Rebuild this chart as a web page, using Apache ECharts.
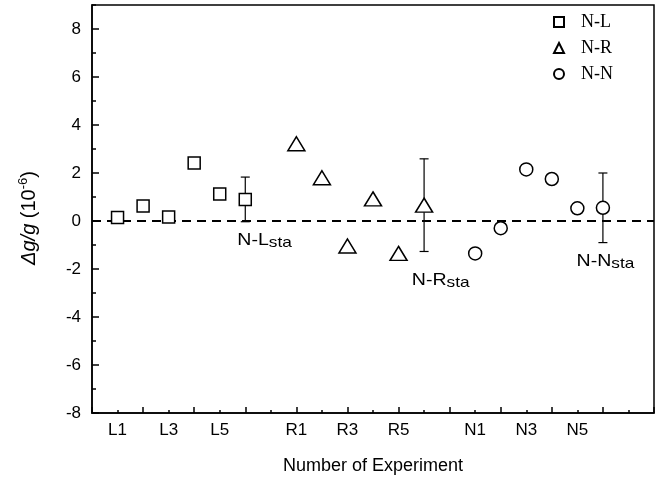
<!DOCTYPE html>
<html>
<head>
<meta charset="utf-8">
<script src="https://cdn.jsdelivr.net/npm/echarts@6/dist/echarts.min.js"></script>
<style>
html,body{margin:0;padding:0;background:#fff;}
#chart{width:672px;height:483px;}
</style>
</head>
<body>
<div id="chart"></div>
<script>
// ---- data ----
const xTickValues = [1, 3, 5, 8, 10, 12, 15, 17, 19];
const xTickLabels = ['L1', 'L3', 'L5', 'R1', 'R3', 'R5', 'N1', 'N3', 'N5'];
const yTickValues = [-8, -6, -4, -2, 0, 2, 4, 6, 8];

const nlX = [1, 2, 3, 4, 5, 6];
const nlY = [0.15, 0.62, 0.17, 2.42, 1.12, 0.90];
const nrX = [8, 9, 10, 11, 12, 13];
const nrY = [3.22, 1.80, -1.04, 0.92, -1.35, 0.66];
const nnX = [15, 16, 17, 18, 19, 20];
const nnY = [-1.35, -0.30, 2.15, 1.75, 0.53, 0.55];

// error bars of the "sta" points
const staX = [6, 13, 20];
const staY = [0.90, 0.66, 0.55];
const staErr = [0.93, 1.93, 1.45];

// reference level (dashed line)
const refLevel = [0];

// annotations
const noteMain = ['N-L', 'N-R', 'N-N'];
const noteSub = ['sta', 'sta', 'sta'];
const noteX = [5.69, 12.52, 18.97];
const noteY = [-0.81, -2.48, -1.67];

const FONT = 'Liberation Sans, Arial, sans-serif';
const zip = (a, b) => a.map((v, i) => [v, b[i]]);

const chart = echarts.init(document.getElementById('chart'), null, {renderer: 'canvas'});

const markerStyle = {color: '#fff', borderColor: '#000', borderWidth: 1.5, opacity: 1};

const option = {
  animation: false,
  backgroundColor: '#fff',
  grid: {left: 92, right: 18, top: 5, bottom: 70, show: true, borderColor: '#000', borderWidth: 1.5, backgroundColor: 'transparent'},
  legend: {
    orient: 'vertical', left: 548, top: 8, padding: 5,
    itemWidth: 10, itemHeight: 10, itemGap: 8,
    data: ['N-L', 'N-R', 'N-N'],
    textStyle: {fontFamily: 'Liberation Serif, Times New Roman, serif', fontSize: 18, lineHeight: 18, color: '#000', padding: [0, 0, 0, 12]}
  },
  xAxis: [{
    type: 'value', min: 0, max: 22, interval: 2, position: 'bottom',
    name: 'Number of Experiment', nameLocation: 'middle', nameGap: 44,
    nameTextStyle: {fontFamily: FONT, fontSize: 18, color: '#000'},
    axisLine: {show: true, onZero: false, lineStyle: {color: '#000', width: 1.5}},
    axisTick: {show: true, inside: true, length: 6, lineStyle: {color: '#000', width: 1.5}},
    minorTick: {show: true, splitNumber: 2, length: 3, lineStyle: {color: '#000', width: 1.5}},
    splitLine: {show: false},
    axisLabel: {
      show: true, margin: 9, fontFamily: FONT, fontSize: 17, color: '#000',
      customValues: xTickValues,
      formatter: v => { const i = xTickValues.indexOf(v); return i >= 0 ? xTickLabels[i] : ''; }
    }
  }],
  yAxis: [{
    type: 'value', min: -8, max: 9, interval: 2, position: 'left',
    name: '{i|Δg/g} (10{s|-6})', nameLocation: 'middle', nameGap: 51, nameRotate: 90,
    nameTextStyle: {fontFamily: FONT, fontSize: 20, color: '#000', lineHeight: 24, padding: [0, 18, 0, 0],
      rich: {i: {fontFamily: FONT, fontStyle: 'italic', fontSize: 20, lineHeight: 24, color: '#000'},
             s: {fontFamily: FONT, fontSize: 13, lineHeight: 13, verticalAlign: 'top', color: '#000'}}},
    axisLine: {show: true, onZero: false, lineStyle: {color: '#000', width: 1.5}},
    axisTick: {show: true, inside: true, length: 7, customValues: yTickValues, lineStyle: {color: '#000', width: 1.5}},
    splitLine: {show: false},
    axisLabel: {show: true, margin: 11, fontFamily: FONT, fontSize: 17, color: '#000', customValues: yTickValues}
  }, {
    type: 'value', min: -8, max: 9, interval: 1, position: 'left',
    axisLine: {show: false, onZero: false},
    axisTick: {show: true, inside: true, length: 4, lineStyle: {color: '#000', width: 1.5}},
    axisLabel: {show: false}, splitLine: {show: false}
  }],
  series: [
    {
      name: 'ref', type: 'custom', z: 1, silent: true,
      data: refLevel.map(v => [v]),
      renderItem: function (params, api) {
        const a = api.coord([0, api.value(0)]);
        const b = api.coord([22, api.value(0)]);
        return {type: 'line', shape: {x1: a[0], y1: a[1], x2: b[0], y2: b[1]},
          style: {stroke: '#000', lineWidth: 2, lineDash: [9, 6]}};
      }
    },
    {
      name: 'err', type: 'custom', z: 2, silent: true,
      data: staX.map((x, i) => [x, staY[i], staErr[i]]),
      renderItem: function (params, api) {
        const x = api.value(0), y = api.value(1), e = api.value(2);
        const t = api.coord([x, y + e]);
        const b = api.coord([x, y - e]);
        const hw = 4.5;
        const st = {stroke: '#000', lineWidth: 1.2};
        return {type: 'group', children: [
          {type: 'line', shape: {x1: t[0], y1: t[1], x2: b[0], y2: b[1]}, style: st},
          {type: 'line', shape: {x1: t[0] - hw, y1: t[1], x2: t[0] + hw, y2: t[1]}, style: st},
          {type: 'line', shape: {x1: b[0] - hw, y1: b[1], x2: b[0] + hw, y2: b[1]}, style: st}
        ]};
      }
    },
    {name: 'N-L', type: 'scatter', z: 3, symbol: 'rect', symbolSize: 12, itemStyle: markerStyle, data: zip(nlX, nlY)},
    {name: 'N-R', type: 'scatter', z: 3, symbol: 'triangle', symbolSize: [17, 14], itemStyle: markerStyle, data: zip(nrX, nrY)},
    {name: 'N-N', type: 'scatter', z: 3, symbol: 'circle', symbolSize: 13, itemStyle: markerStyle, data: zip(nnX, nnY)},
    {
      name: 'notes', type: 'custom', z: 4, silent: true,
      data: noteX.map((x, i) => [x, noteY[i]]),
      renderItem: function (params, api) {
        const p = api.coord([api.value(0), api.value(1)]);
        const i = params.dataIndex;
        return {
          type: 'text', x: p[0], y: p[1], scaleX: 1.15,
          style: {
            text: '{a|' + noteMain[i] + '}{b|' + noteSub[i] + '}',
            align: 'left', verticalAlign: 'middle', fill: '#000',
            rich: {
              a: {fontFamily: FONT, fontSize: 17, lineHeight: 20, fill: '#000'},
              b: {fontFamily: FONT, fontSize: 15, lineHeight: 4, verticalAlign: 'bottom', fill: '#000'}
            }
          }
        };
      }
    }
  ]
};
chart.setOption(option);
</script>
</body>
</html>
